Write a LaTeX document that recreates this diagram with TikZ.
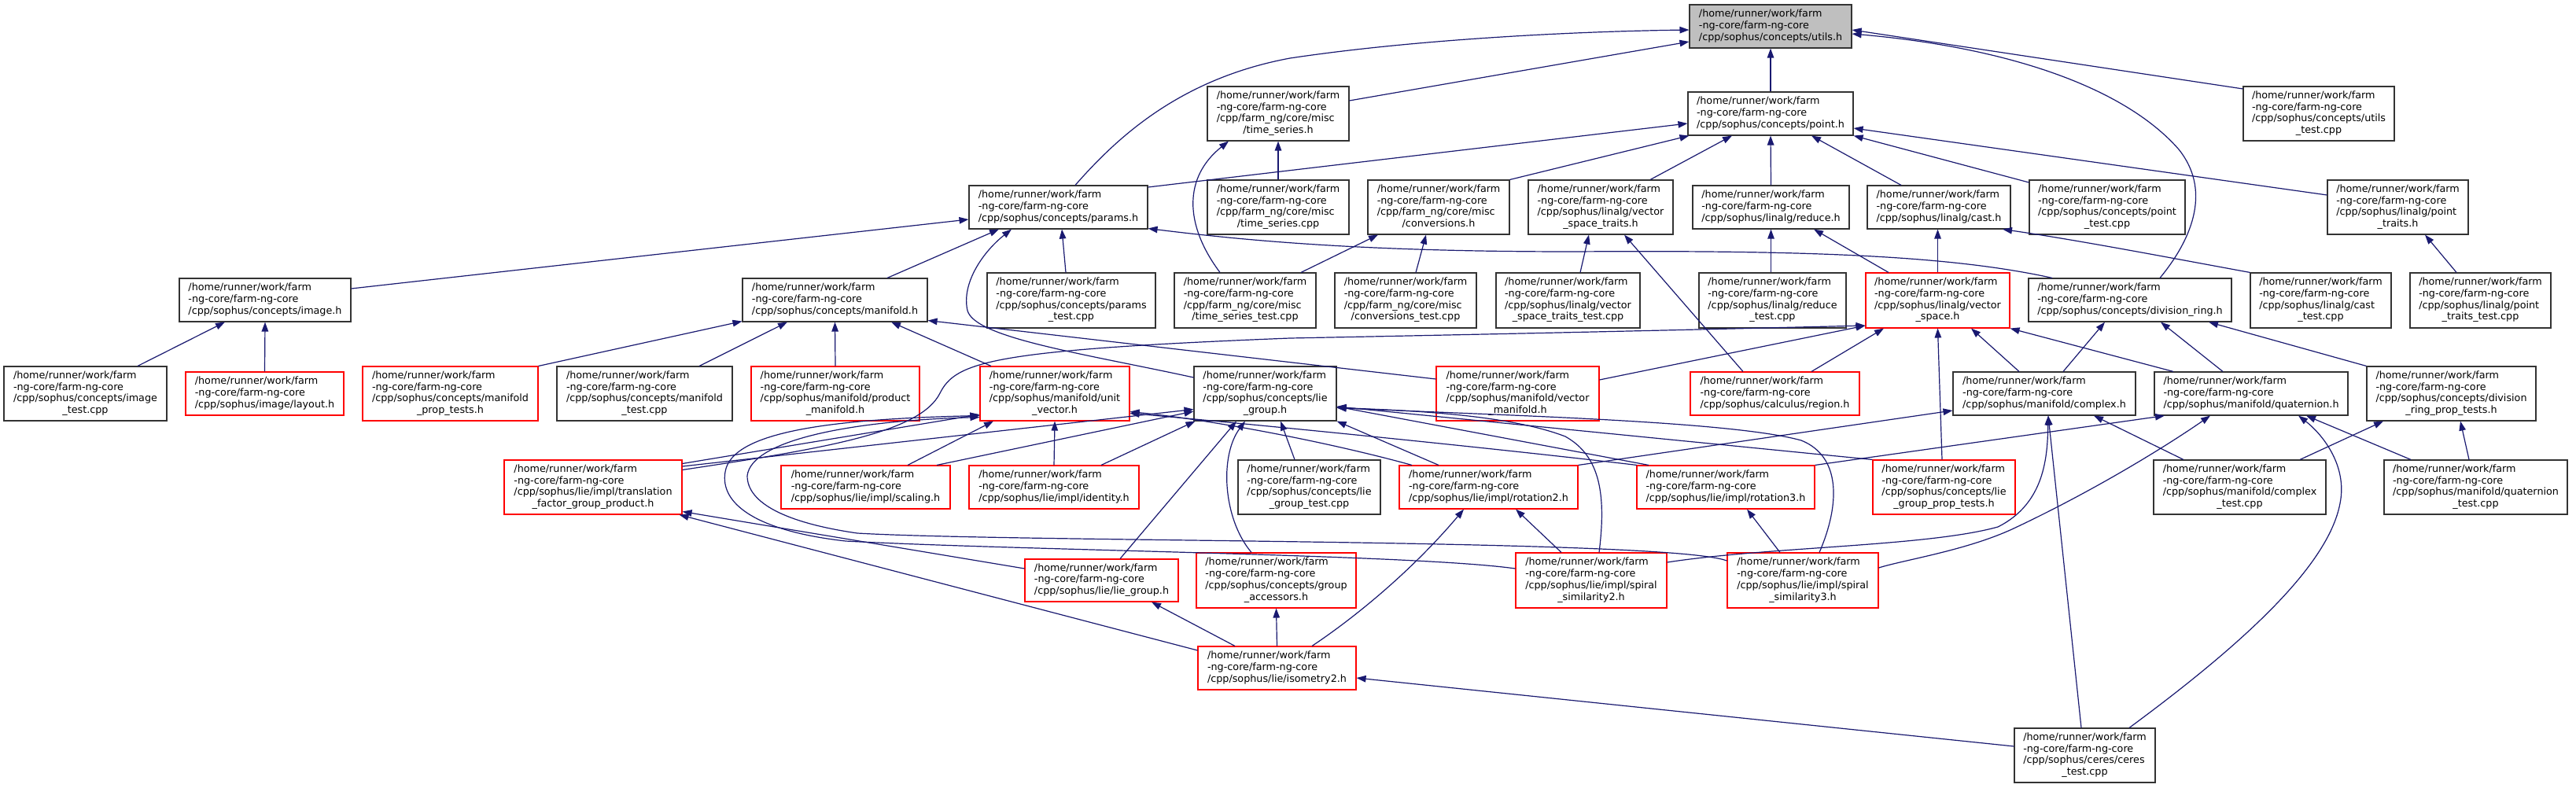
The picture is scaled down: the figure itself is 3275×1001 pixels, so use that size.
\documentclass[tikz,border=0pt]{standalone}
\usepackage{fontspec}
\setmainfont{DejaVu Sans}
\usetikzlibrary{arrows.meta}
\definecolor{edgec}{HTML}{191970}
\definecolor{rootfill}{HTML}{BFBFBF}
\newcommand\hpa{/home/runner/work/farm}
\newcommand\hpb{-ng-core/farm-ng-core}
\newcommand\labA[1]{\begin{tabular}{@{}l@{}}\hpa\\\hpb\\#1\end{tabular}}
\newcommand\labB[2]{\begin{tabular}{@{}l@{}}\hpa\\\hpb\\#1\\\multicolumn{1}{@{}c@{}}{#2}\end{tabular}}
\newcommand\gnode[7]{\node[#6, minimum width={(#4-#2)*1pt}, minimum height={(#5-#3)*1pt}] (#1) at ({(#2+#4)/2},{(#3+#5)/2}) {#7};}
\tikzset{
  box/.style={draw=black!80, line width=1.1pt, fill=white, inner sep=0pt, rectangle,
    font=\fontsize{12.75}{14.7}\selectfont},
  redbox/.style={box, draw=red},
  rootbox/.style={box, fill=rootfill},
  e/.style={draw=edgec, line width=1.2pt, -{Triangle[length=12pt,width=8.5pt]}, fill=none},
}
\begin{document}
\begin{tikzpicture}[x=1pt,y=-1pt]
\useasboundingbox[fill=white] (0,0) rectangle (3275,1001);
% row 1
\gnode{utils}{2148}{6}{2354}{61}{rootbox}{\labA{/cpp/sophus/concepts/utils.h}}
% row 2
\gnode{tsh}{1535}{110}{1715}{179}{box}{\labB{/cpp/farm\_ng/core/misc}{/time\_series.h}}
\gnode{uttest}{2852}{110}{3044}{179}{box}{\labB{/cpp/sophus/concepts/utils}{\_test.cpp}}
\gnode{point}{2146}{117}{2356}{172}{box}{\labA{/cpp/sophus/concepts/point.h}}
% row 3
\gnode{params}{1232}{236}{1459}{291}{box}{\labA{/cpp/sophus/concepts/params.h}}
\gnode{tscpp}{1535}{229}{1715}{298}{box}{\labB{/cpp/farm\_ng/core/misc}{/time\_series.cpp}}
\gnode{conv}{1739}{229}{1919}{298}{box}{\labB{/cpp/farm\_ng/core/misc}{/conversions.h}}
\gnode{vst}{1943}{229}{2127}{298}{box}{\labB{/cpp/sophus/linalg/vector}{\_space\_traits.h}}
\gnode{reduce}{2152}{236}{2351}{291}{box}{\labA{/cpp/sophus/linalg/reduce.h}}
\gnode{cast}{2374}{236}{2556}{291}{box}{\labA{/cpp/sophus/linalg/cast.h}}
\gnode{ptest}{2580}{229}{2778}{298}{box}{\labB{/cpp/sophus/concepts/point}{\_test.cpp}}
\gnode{ptraits}{2959}{229}{3138}{298}{box}{\labB{/cpp/sophus/linalg/point}{\_traits.h}}
% row 4
\gnode{image}{228}{354}{446}{409}{box}{\labA{/cpp/sophus/concepts/image.h}}
\gnode{manifold}{944}{354}{1179}{409}{box}{\labA{/cpp/sophus/concepts/manifold.h}}
\gnode{paramstest}{1255}{347}{1469}{417}{box}{\labB{/cpp/sophus/concepts/params}{\_test.cpp}}
\gnode{tstest}{1493}{347}{1673}{417}{box}{\labB{/cpp/farm\_ng/core/misc}{/time\_series\_test.cpp}}
\gnode{convtest}{1697}{347}{1877}{417}{box}{\labB{/cpp/farm\_ng/core/misc}{/conversions\_test.cpp}}
\gnode{vsttest}{1902}{347}{2085}{417}{box}{\labB{/cpp/sophus/linalg/vector}{\_space\_traits\_test.cpp}}
\gnode{reducetest}{2160}{347}{2347}{417}{box}{\labB{/cpp/sophus/linalg/reduce}{\_test.cpp}}
\gnode{vspace}{2372}{347}{2555}{417}{redbox}{\labB{/cpp/sophus/linalg/vector}{\_space.h}}
\gnode{divring}{2579}{354}{2837}{409}{box}{\labA{/cpp/sophus/concepts/division\_ring.h}}
\gnode{casttest}{2861}{347}{3040}{417}{box}{\labB{/cpp/sophus/linalg/cast}{\_test.cpp}}
\gnode{pttest}{3064}{347}{3243}{417}{box}{\labB{/cpp/sophus/linalg/point}{\_traits\_test.cpp}}
% row 5
\gnode{imagetest}{5}{466}{212}{535}{box}{\labB{/cpp/sophus/concepts/image}{\_test.cpp}}
\gnode{layout}{236}{473}{437}{528}{redbox}{\labA{/cpp/sophus/image/layout.h}}
\gnode{mprop}{461}{466}{684}{535}{redbox}{\labB{/cpp/sophus/concepts/manifold}{\_prop\_tests.h}}
\gnode{mtest}{708}{466}{931}{535}{box}{\labB{/cpp/sophus/concepts/manifold}{\_test.cpp}}
\gnode{prodman}{955}{466}{1169}{535}{redbox}{\labB{/cpp/sophus/manifold/product}{\_manifold.h}}
\gnode{unitvec}{1246}{466}{1436}{535}{redbox}{\labB{/cpp/sophus/manifold/unit}{\_vector.h}}
\gnode{lieconcept}{1518}{466}{1699}{535}{box}{\labB{/cpp/sophus/concepts/lie}{\_group.h}}
\gnode{vecman}{1826}{466}{2033}{535}{redbox}{\labB{/cpp/sophus/manifold/vector}{\_manifold.h}}
\gnode{region}{2149}{473}{2364}{528}{redbox}{\labA{/cpp/sophus/calculus/region.h}}
\gnode{complex}{2483}{473}{2715}{528}{box}{\labA{/cpp/sophus/manifold/complex.h}}
\gnode{quat}{2739}{473}{2985}{528}{box}{\labA{/cpp/sophus/manifold/quaternion.h}}
\gnode{drprop}{3009}{466}{3224}{535}{box}{\labB{/cpp/sophus/concepts/division}{\_ring\_prop\_tests.h}}
% row 6
\gnode{transl}{641}{585}{867}{654}{redbox}{\labB{/cpp/sophus/lie/impl/translation}{\_factor\_group\_product.h}}
\gnode{scaling}{993}{592}{1208}{647}{redbox}{\labA{/cpp/sophus/lie/impl/scaling.h}}
\gnode{identity}{1232}{592}{1448}{647}{redbox}{\labA{/cpp/sophus/lie/impl/identity.h}}
\gnode{lgtest}{1574}{585}{1755}{654}{box}{\labB{/cpp/sophus/concepts/lie}{\_group\_test.cpp}}
\gnode{rot2}{1779}{592}{2006}{647}{redbox}{\labA{/cpp/sophus/lie/impl/rotation2.h}}
\gnode{rot3}{2081}{592}{2307}{647}{redbox}{\labA{/cpp/sophus/lie/impl/rotation3.h}}
\gnode{lgprop}{2381}{585}{2562}{654}{redbox}{\labB{/cpp/sophus/concepts/lie}{\_group\_prop\_tests.h}}
\gnode{ctest}{2738}{585}{2957}{654}{box}{\labB{/cpp/sophus/manifold/complex}{\_test.cpp}}
\gnode{qtest}{3031}{585}{3264}{654}{box}{\labB{/cpp/sophus/manifold/quaternion}{\_test.cpp}}
% row 7
\gnode{liegroup}{1303}{711}{1498}{765}{redbox}{\labA{/cpp/sophus/lie/lie\_group.h}}
\gnode{gacc}{1521}{703}{1724}{773}{redbox}{\labB{/cpp/sophus/concepts/group}{\_accessors.h}}
\gnode{spiral2}{1927}{703}{2119}{773}{redbox}{\labB{/cpp/sophus/lie/impl/spiral}{\_similarity2.h}}
\gnode{spiral3}{2196}{703}{2388}{773}{redbox}{\labB{/cpp/sophus/lie/impl/spiral}{\_similarity3.h}}
% row 8
\gnode{iso2}{1523}{822}{1724}{877}{redbox}{\labA{/cpp/sophus/lie/isometry2.h}}
% row 9
\gnode{ceres}{2561}{926}{2740}{995}{box}{\labB{/cpp/sophus/ceres/ceres}{\_test.cpp}}

% ---- edges into utils.h
\draw[e] ([xshift=21.5pt]params.north) .. controls (1420,175) and (1500,100) .. (1640,74) .. controls (1800,50) and (2000,40) .. ([yshift=-4.5pt]utils.west);
\draw[e] ([yshift=16.5pt]tsh.east) -- ([yshift=-19.5pt]utils.west);
\draw[e] (point.north) -- (utils.south);
\draw[e] ([yshift=31.5pt]uttest.west) -- ([yshift=-4.5pt]utils.east);
\draw[e] ([xshift=38pt]divring.north) .. controls (2790,300) and (2810,240) .. (2770,190) .. controls (2700,110) and (2550,60) .. ([yshift=-9.5pt]utils.east);
% ---- into point.h
\draw[e] ([yshift=25.5pt]params.east) -- ([yshift=-12.5pt]point.west);
\draw[e] (conv.north east) -- ([xshift=2pt]point.south west);
\draw[e] ([xshift=63pt]vst.north) -- ([xshift=-49pt]point.south);
\draw[e] (reduce.north) -- (point.south);
\draw[e] ([xshift=-48pt]cast.north) -- ([xshift=52pt]point.south);
\draw[e] ([yshift=31.5pt]ptest.west) -- (point.south east);
\draw[e] ([yshift=15.5pt]ptraits.west) -- ([yshift=-18.5pt]point.east);
% ---- time series
\draw[e] (tscpp.north) -- (tsh.south);
\draw[e] ([xshift=-32pt]tstest.north) .. controls (1505,285) and (1505,225) .. ([xshift=-63pt]tsh.south);
\draw[e] ([xshift=71pt]tstest.north) -- ([xshift=-77pt]conv.south);
\draw[e] ([xshift=13pt]convtest.north) -- ([xshift=-16pt]conv.south);
% ---- linalg
\draw[e] ([xshift=15.5pt]vsttest.north) -- ([xshift=-15pt]vst.south);
\draw[e] ([xshift=-40.5pt]region.north) -- ([xshift=30pt]vst.south);
\draw[e] ([xshift=-2pt]reducetest.north) -- (reduce.south);
\draw[e] ([xshift=-62.5pt]vspace.north) -- ([xshift=54.5pt]reduce.south);
\draw[e] (vspace.north) -- ([xshift=-1.5pt]cast.south);
\draw[e] (casttest.north west) .. controls (2760,328) and (2640,305) .. ([xshift=81pt]cast.south);
\draw[e] ([xshift=-30.5pt]pttest.north) -- ([xshift=34.5pt]ptraits.south);
% ---- into params.h
\draw[e] ([yshift=14.5pt]image.east) -- ([yshift=-15.5pt]params.west);
\draw[e] ([xshift=66.5pt]manifold.north) -- ([xshift=-75.5pt]params.south);
\draw[e] ([yshift=20.5pt]lieconcept.west) .. controls (1380,450) and (1240,430) .. (1230,395) .. controls (1222,360) and (1250,320) .. ([xshift=-59.5pt]params.south);
\draw[e] ([xshift=-7pt]paramstest.north) -- ([xshift=4.5pt]params.south);
\draw[e] ([xshift=-99pt]divring.north) .. controls (2480,325) and (2300,318) .. (2000,320) .. controls (1750,320) and (1600,308) .. ([yshift=-27pt]params.east);
% ---- image
\draw[e] ([xshift=66.5pt]imagetest.north) -- ([xshift=-51pt]image.south);
\draw[e] (layout.north) -- (image.south);
% ---- manifold
\draw[e] (mprop.north east) -- ([yshift=-27pt]manifold.west);
\draw[e] ([xshift=69.5pt]mtest.north) -- ([xshift=-60.5pt]manifold.south);
\draw[e] (prodman.north) -- (manifold.south);
\draw[e] ([xshift=-81pt]unitvec.north) -- ([xshift=71.5pt]manifold.south);
\draw[e] ([yshift=18.5pt]vecman.west) -- ([yshift=-26pt]manifold.east);
% ---- vector space
\draw[e] ([yshift=17.5pt]vecman.east) -- ([yshift=-32pt]vspace.west);
\draw[e] ([xshift=46.5pt]region.north) -- ([xshift=-68.5pt]vspace.south);
\draw[e] ([xshift=-2.5pt]lgprop.north) -- (vspace.south);
\draw[e] ([xshift=-32pt]complex.north) -- ([xshift=42.5pt]vspace.south);
\draw[e] ([xshift=-99pt]quat.north) -- (vspace.south east);
\draw[e] ([yshift=22pt]transl.east) .. controls (1050,570) and (1170,550) .. (1195,500) .. controls (1215,460) and (1260,445) .. (1640,430) .. controls (2000,423) and (2200,418) .. ([yshift=-32pt]vspace.west);
% ---- division ring
\draw[e] ([xshift=24pt]complex.north) -- ([xshift=-32pt]divring.south);
\draw[e] ([xshift=-36pt]quat.north) -- ([xshift=39pt]divring.south);
\draw[e] (drprop.north west) -- ([xshift=100pt]divring.south);
% ---- complex / quaternion
\draw[e] ([xshift=-71.5pt]ctest.north) -- ([xshift=63pt]complex.south);
\draw[e] ([xshift=76.5pt]ctest.north) -- ([xshift=-86.5pt]drprop.south);
\draw[e] ([xshift=-82.5pt]qtest.north) -- ([xshift=70pt]quat.south);
\draw[e] ([xshift=-8.5pt]qtest.north) -- ([xshift=11.5pt]drprop.south);
\draw[e] (rot2.north east) -- ([yshift=-21.5pt]complex.west);
\draw[e] (rot3.north east) -- ([xshift=-110pt]quat.south);
\draw[e] ([yshift=23pt]spiral2.east) .. controls (2250,695) and (2450,695) .. (2540,670) .. controls (2600,640) and (2603,580) .. ([xshift=5pt]complex.south);
\draw[e] ([yshift=16pt]spiral3.east) .. controls (2420,712) and (2500,700) .. (2560,672) .. controls (2660,625) and (2750,570) .. ([xshift=-52pt]quat.south);
\draw[e] ([xshift=-4.5pt]ceres.north) -- ([xshift=5pt]complex.south);
\draw[e] ([xshift=56.5pt]ceres.north) .. controls (2850,820) and (2960,720) .. (2975,640) .. controls (2985,590) and (2950,550) .. ([xshift=60pt]quat.south);
% ---- into concepts/lie_group.h
\draw[e] (lgprop.north west) -- ([yshift=-16.5pt]lieconcept.east);
\draw[e] ([xshift=-98pt]rot3.north) -- ([yshift=-16.5pt]lieconcept.east);
\draw[e] ([xshift=21pt]spiral3.north) .. controls (2340,640) and (2340,580) .. (2290,560) .. controls (2200,535) and (1900,528) .. ([yshift=-18pt]lieconcept.east);
\draw[e] ([xshift=10pt]spiral2.north) .. controls (2042,630) and (2035,580) .. (1990,555) .. controls (1920,528) and (1800,522) .. ([yshift=-18pt]lieconcept.east);
\draw[e] ([xshift=-63.5pt]rot2.north) -- (lieconcept.south east);
\draw[e] ([xshift=-18.5pt]lgtest.north) -- ([xshift=19.5pt]lieconcept.south);
\draw[e] ([xshift=23.5pt]liegroup.north) -- ([xshift=-36.5pt]lieconcept.south);
\draw[e] ([xshift=-31.5pt]gacc.north) .. controls (1555,660) and (1550,580) .. ([xshift=-25.5pt]lieconcept.south);
\draw[e] ([xshift=60pt]identity.north) -- ([xshift=2pt]lieconcept.south west);
\draw[e] ([xshift=90.5pt]scaling.north) -- ([yshift=-22.5pt]lieconcept.west);
\draw[e] ([yshift=26.5pt]transl.east) -- ([yshift=-20pt]lieconcept.west);
% ---- into unit_vector.h
\draw[e] ([yshift=30pt]transl.east) -- ([yshift=-26.5pt]unitvec.west);
\draw[e] ([xshift=53.5pt]scaling.north) -- ([xshift=-78pt]unitvec.south);
\draw[e] (identity.north) -- (unitvec.south);
\draw[e] ([xshift=-97.5pt]rot2.north) .. controls (1700,565) and (1550,535) .. ([yshift=-23pt]unitvec.east);
\draw[e] ([xshift=-113pt]rot3.north) .. controls (1900,570) and (1600,540) .. ([yshift=-25pt]unitvec.east);
\draw[e] ([yshift=15pt]spiral2.west) .. controls (1800,705) and (1300,700) .. (1075,688) .. controls (960,675) and (915,640) .. (922,600) .. controls (930,550) and (1050,533) .. ([yshift=-28pt]unitvec.west);
\draw[e] ([yshift=25pt]spiral3.west) .. controls (2120,685) and (1300,690) .. (1090,678) .. controls (1000,665) and (950,640) .. (950,605) .. controls (955,560) and (1080,535) .. ([yshift=-30pt]unitvec.west);
% ---- lower part
\draw[e] ([yshift=15pt]liegroup.west) -- ([yshift=-31pt]transl.east);
\draw[e] ([yshift=22.5pt]iso2.west) -- ([xshift=-4pt]transl.south east);
\draw[e] ([xshift=-53.5pt]iso2.north) -- ([xshift=63.5pt]liegroup.south);
\draw[e] (iso2.north) -- (gacc.south);
\draw[e] ([xshift=44.5pt]iso2.north) .. controls (1730,780) and (1800,720) .. ([xshift=-31.5pt]rot2.south);
\draw[e] ([xshift=-38pt]spiral2.north) -- ([xshift=34.5pt]rot2.south);
\draw[e] ([xshift=-29pt]spiral3.north) -- ([xshift=27pt]rot3.south);
\draw[e] ([yshift=11.5pt]ceres.west) -- ([yshift=-12.5pt]iso2.east);
\end{tikzpicture}
\end{document}
